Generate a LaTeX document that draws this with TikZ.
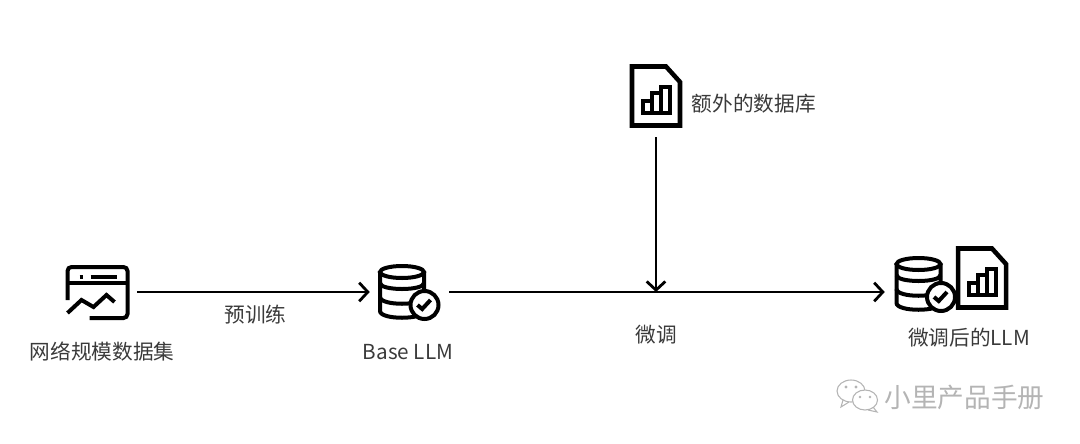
\documentclass[tikz,border=0pt]{standalone}
\usepackage{fontspec}
\setmainfont{Noto Sans CJK SC}
\usetikzlibrary{positioning,arrows.meta}
\definecolor{labelgray}{HTML}{3A3A3A}
\definecolor{markgray}{HTML}{B4B4B4}
\tikzset{
    >={Straight Barb[length=6.5pt,width=14pt,line width=2.1pt]},
    flow/.style={->, line width=2.1pt},
    iconbox/.style={inner sep=0pt, minimum width=59.25pt, minimum height=52pt},
    label/.style={inner sep=0pt, text=labelgray, font=\fontsize{15.5pt}{18pt}\selectfont},
    iconline/.style={line width=3pt},
    webicon/.pic={
        \draw[iconline, rounded corners=3pt] (-30,8) -- (-30,-25) -- (30,-25) -- (30,26) -- (-8,26);
        \draw[iconline] (-30,-9) -- (30,-9);
        \draw[iconline] (-18,-15) -- (-15,-15) (-7,-15) -- (19,-15);
        \draw[iconline] (-30,21) -- (-16,8) -- (-4,15) -- (9,3) -- (17,10);
    },
    dbicon/.pic={
        \draw[iconline] (-7.5,-20) ellipse [x radius=22, y radius=6];
        \draw[iconline] (-29.5,-20) -- (-29.5,19) .. controls (-29.5,28) and (14.5,28) .. (14.5,19) -- (14.5,-20);
        \draw[iconline] (-29.5,-9) .. controls (-29.5,-1) and (14.5,-1) .. (14.5,-9);
        \draw[iconline] (-29.5,5) .. controls (-29.5,14) and (14.5,14) .. (14.5,5);
        \draw[iconline, fill=white] (15,13) circle [radius=14];
        \draw[iconline] (8,13) -- (12.7,17) -- (21,8);
    },
    docicon/.pic={
        \draw[line width=3.4pt, fill=white] (-24,-29.5) -- (10,-29.5) -- (24,-14) -- (24,29.5) -- (-24,29.5) -- cycle;
        \draw[line width=3.2pt] (-13,17) rectangle (-4,5) (-4,17) rectangle (5,-3) (5,17) rectangle (14,-9);
    }
}

\begin{document}
\begin{tikzpicture}[x=0.75pt, y=-0.75pt]
\useasboundingbox (0,0) rectangle (1080,443);

\node[iconbox] (web) at (97.5,292) {};
\node[iconbox] (base) at (409.5,292) {};
\node[iconbox, minimum width=99pt] (tuned) at (951,292) {};
\node[iconbox, minimum width=38pt, minimum height=61.5pt] (extra) at (656,96) {};
\coordinate (merge) at (extra |- base);

\pic at (web) {webicon};
\pic at (base) {dbicon};
\pic at (extra) {docicon};
\pic at ([shift={(-25,-8)}]tuned) {dbicon};
\pic at ([shift={(31,-14)}]tuned) {docicon};

% Labels
\node[label] (webtext) at (102,352) {网络规模数据集};
\node[label] (basetext) at (408,352) {Base LLM};
\node[label, right=7.5pt of extra, yshift=-5.5pt] (extratext) {额外的数据库};
\node[label] (tunedtext) at (969,338) {微调后的LLM};
\node[label] (finetext) at (656,335) {微调};

% Arrows
\draw[flow] (web) -- (base) node[label, midway, below=9pt, xshift=1.5pt] (pretext) {预训练};
\draw[flow] (base) -- (tuned);
\draw[flow] (extra) -- (merge);

% Watermark
\node[inner sep=0pt, text=markgray, font=\fontsize{20pt}{22pt}\selectfont] (mark) at (964.5,397) {小里产品手册};
\draw[markgray, line width=.8pt, fill=white] (851,391) ellipse [x radius=14, y radius=11];
\draw[markgray, line width=.8pt] (843,400) -- (841,407) -- (849,402);
\draw[markgray, line width=.8pt, fill=white] (865,400) ellipse [x radius=12.5, y radius=10];
\draw[markgray, line width=.8pt] (873,407) -- (877,412) -- (868,410);
\fill[markgray] (846,387) circle [radius=1.6] (856,387) circle [radius=1.6] (860,397) circle [radius=1.3] (870,397) circle [radius=1.3];
\end{tikzpicture}
\end{document}
